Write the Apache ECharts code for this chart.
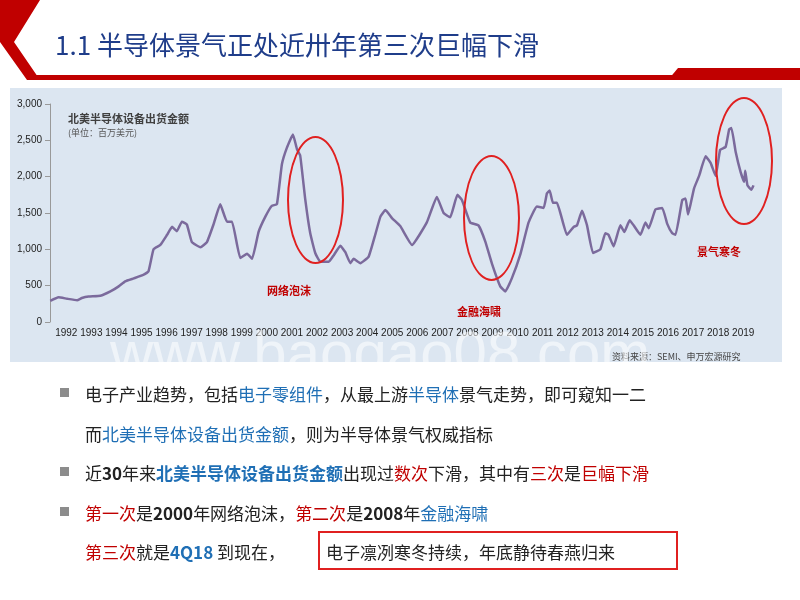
<!DOCTYPE html>
<html><head><meta charset="utf-8">
<script src="https://cdn.jsdelivr.net/npm/echarts@6/dist/echarts.min.js"></script>
<style>
body{margin:0;width:800px;height:600px;position:relative;overflow:hidden;background:#fff;font-family:"Noto Sans CJK SC","Noto Sans",sans-serif;}
#chart{position:absolute;left:0;top:0;width:800px;height:600px;}
.abs{position:absolute;}
.ell{position:absolute;border:2px solid #e02020;border-radius:50%;box-sizing:border-box;}
.lbl{position:absolute;color:#c00000;font-weight:bold;font-size:11px;}
.txt{position:absolute;left:85px;font-size:17px;color:#222;white-space:nowrap;}
.b{color:#1f6fb5}.r{color:#c00000}.w{font-weight:bold}
.sq{position:absolute;left:60px;width:9px;height:9px;background:#8c8c8c;}
</style></head><body>
<div id="chart"></div>
<div class="abs" style="left:55px;top:25px;font-size:26px;color:#1f3d8a;font-weight:normal;">1.1 半导体景气正处近卅年第三次巨幅下滑</div>
<div class="abs" style="left:68px;top:110px;font-size:11px;font-weight:bold;color:#404040;">北美半导体设备出货金额</div>
<div class="abs" style="left:68px;top:126px;font-size:9px;color:#555;">(单位：百万美元)</div>
<div class="abs" style="left:612px;top:350px;font-size:9px;color:#444;">资料来源：SEMI、申万宏源研究</div>
<div class="ell" style="left:287px;top:136px;width:57px;height:128px;"></div>
<div class="ell" style="left:463px;top:155px;width:57px;height:126px;"></div>
<div class="ell" style="left:715px;top:97px;width:58px;height:128px;"></div>
<div class="lbl" style="left:267px;top:282px;">网络泡沫</div>
<div class="lbl" style="left:457px;top:303px;">金融海啸</div>
<div class="lbl" style="left:697px;top:243px;">景气寒冬</div>
<div class="abs" style="left:110px;top:318px;font-size:60px;color:rgba(255,255,255,0.55);font-family:Arial,sans-serif;">www.baogao08.com</div>
<div class="sq" style="top:388px"></div>
<div class="txt" style="top:381px">电子产业趋势，包括<span class="b">电子零组件</span>，从最上游<span class="b">半导体</span>景气走势，即可窥知一二</div>
<div class="txt" style="top:421px">而<span class="b">北美半导体设备出货金额</span>，则为半导体景气权威指标</div>
<div class="sq" style="top:467px"></div>
<div class="txt" style="top:460px">近<span class="w">30</span>年来<span class="b w">北美半导体设备出货金额</span>出现过<span class="r">数次</span>下滑，其中有<span class="r">三次</span>是<span class="r">巨幅下滑</span></div>
<div class="sq" style="top:507px"></div>
<div class="txt" style="top:500px"><span class="r">第一次</span>是<span class="w">2000</span>年网络泡沫，<span class="r">第二次</span>是<span class="w">2008</span>年<span class="b">金融海啸</span></div>
<div class="txt" style="top:539px"><span class="r">第三次</span>就是<span class="b w">4Q18</span> 到现在，</div>
<div class="abs" style="left:318px;top:531px;width:360px;height:39px;border:2px solid #e02020;box-sizing:border-box;"></div>
<div class="txt" style="left:326px;top:539px">电子凛冽寒冬持续，年底静待春燕归来</div>
<script>
var years = [1991.86,1992.19,1992.53,1992.93,1993.12,1993.39,1993.86,1994.26,1994.59,1994.85,1995.19,1995.52,1995.78,1995.98,1996.25,1996.52,1996.72,1996.91,1997.11,1997.31,1997.51,1997.85,1998.11,1998.38,1998.64,1998.91,1999.11,1999.44,1999.71,1999.91,2000.17,2000.44,2000.70,2000.90,2001.10,2001.30,2001.54,2001.70,2001.83,2002.03,2002.23,2002.43,2002.63,2002.97,2003.17,2003.43,2003.63,2003.83,2003.96,2004.23,2004.56,2004.83,2005.03,2005.23,2005.49,2005.82,2006.29,2006.88,2007.28,2007.55,2007.81,2008.10,2008.28,2008.61,2008.94,2009.21,2009.48,2009.81,2010.01,2010.27,2010.61,2010.94,2011.27,2011.54,2011.67,2011.78,2011.91,2012.07,2012.47,2012.74,2012.87,2013.07,2013.27,2013.51,2013.80,2014.00,2014.13,2014.33,2014.60,2014.76,2014.97,2015.13,2015.40,2015.60,2015.73,2016.00,2016.27,2016.47,2016.67,2016.80,2017.07,2017.20,2017.30,2017.40,2017.54,2017.74,2018.00,2018.20,2018.40,2018.58,2018.80,2018.94,2019.03,2019.20,2019.40,2019.54,2019.58,2019.67,2019.83,2019.91];
var shipments = [290,340,320,300,330,350,360,420,490,560,600,640,700,1000,1060,1200,1310,1250,1380,1340,1100,1030,1100,1350,1620,1380,1380,880,940,870,1240,1450,1600,1620,2170,2400,2580,2380,2290,1690,1220,950,830,830,920,1050,960,810,870,810,900,1210,1450,1540,1430,1320,1060,1370,1720,1500,1440,1750,1680,1370,1330,1110,800,490,420,600,930,1370,1590,1570,1770,1810,1640,1640,1200,1310,1330,1530,1330,950,1000,1220,1200,1040,1330,1240,1400,1330,1200,1370,1290,1550,1570,1350,1220,1200,1680,1700,1480,1620,1840,2010,2280,2190,2010,2370,2410,2650,2670,2340,2060,1930,2080,1880,1820,1880];
var yearLabels = [];
for (var y = 1992; y <= 2019; y++) yearLabels.push(y + 0.5);

var chart = echarts.init(document.getElementById('chart'));
chart.setOption({
  animation: false,
  graphic: [
    {type:'rect', shape:{x:10,y:88,width:772,height:274}, style:{fill:'#dce6f1'}, z:-10},
    {type:'polygon', shape:{points:[[0,0],[40,0],[14,42],[40,80],[27,80],[0,42]]}, style:{fill:'#c00000'}},
    {type:'rect', shape:{x:30,y:75,width:770,height:5}, style:{fill:'#c00000'}},
    {type:'polygon', shape:{points:[[668,80],[678,68],[800,68],[800,80]]}, style:{fill:'#c00000'}}
  ],
  grid: {left:50, top:104, width:707, bottom:278, containLabel:false},
  xAxis: {
    type:'value', min:1991.85, max:2020.05,
    axisLine:{show:false}, axisTick:{show:false}, splitLine:{show:false},
    axisLabel:{customValues:yearLabels, formatter:function(v){return Math.floor(v);}, fontSize:10, color:'#222', margin:6, hideOverlap:false}
  },
  yAxis: {
    type:'value', min:0, max:3000, interval:500,
    axisLine:{show:true, lineStyle:{color:'#999'}}, axisTick:{show:true, lineStyle:{color:'#999'}},
    splitLine:{show:false},
    axisLabel:{fontSize:10, color:'#222', margin:8, formatter:function(v){return v.toLocaleString('en-US');}}
  },
  series: [{
    type:'line', data: years.map(function(x,i){return [x, shipments[i]];}),
    showSymbol:false, smooth:0.12, lineStyle:{color:'#7b6a9c', width:2.5}
  }]
});
</script>
</body></html>
